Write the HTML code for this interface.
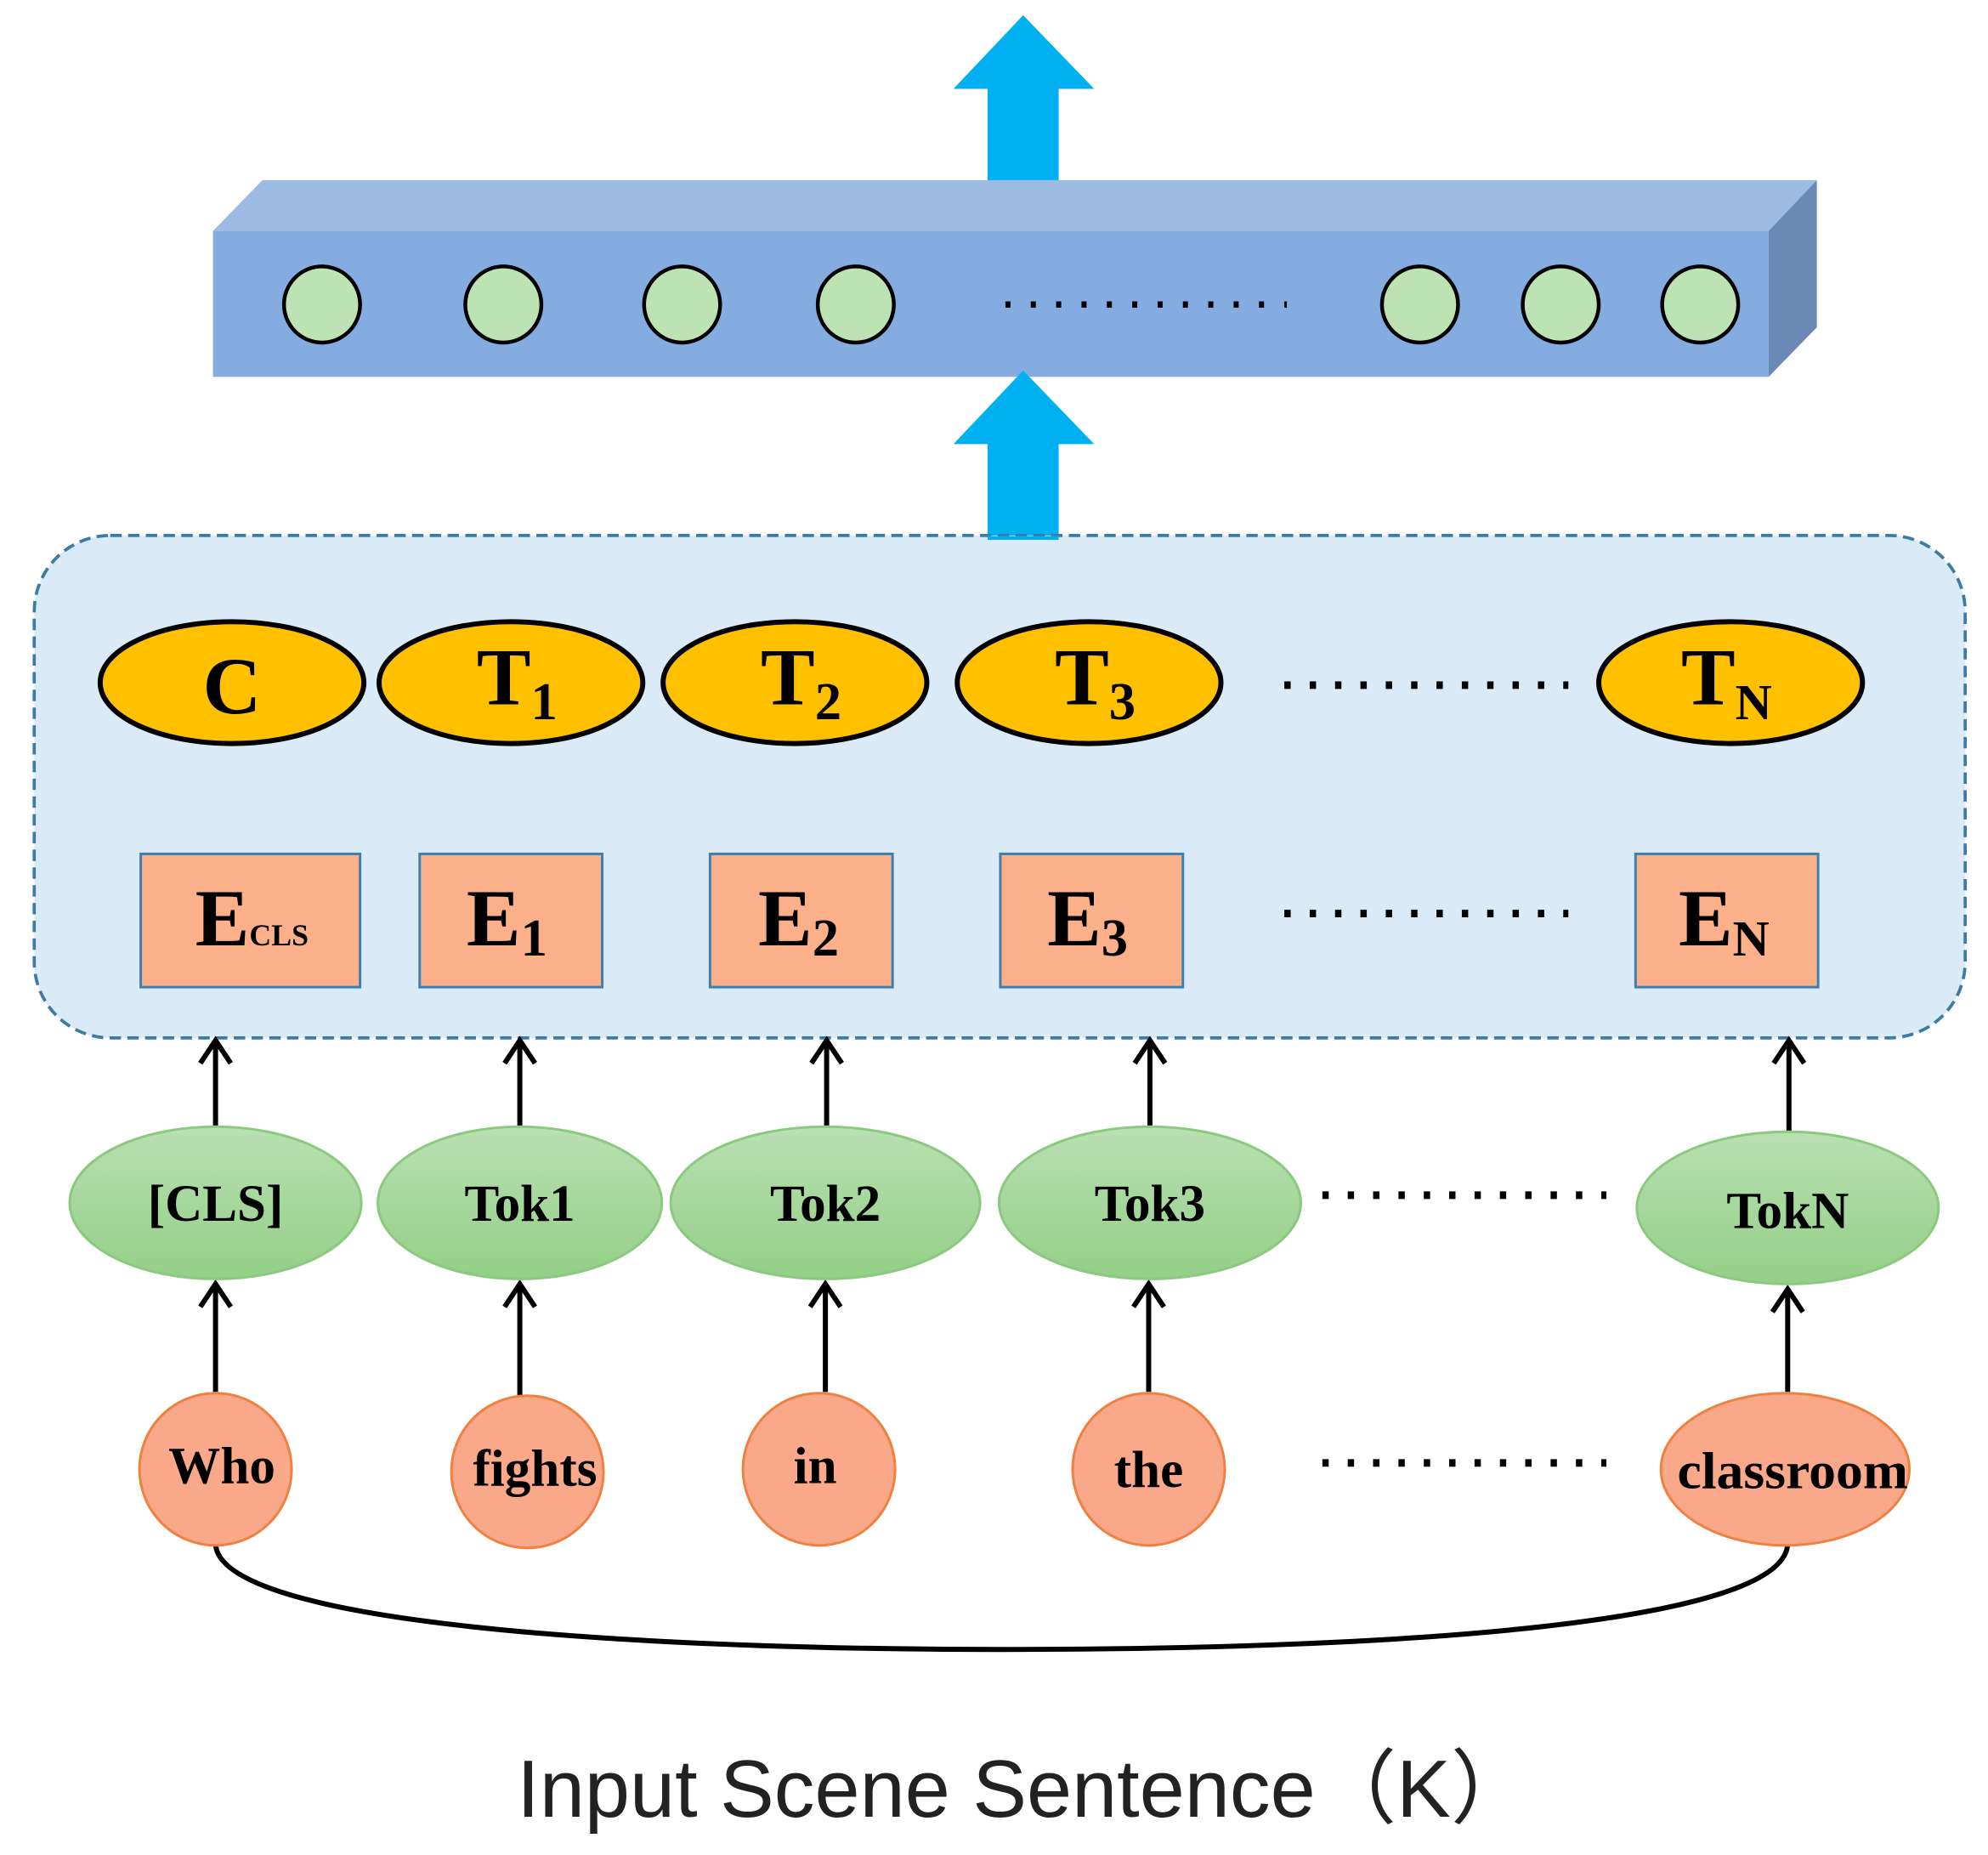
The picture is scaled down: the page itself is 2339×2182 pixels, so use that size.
<!DOCTYPE html>
<html><head><meta charset="utf-8"><style>html,body{margin:0;padding:0;background:#fff}svg{display:block}</style></head>
<body>
<svg width="2339" height="2182" viewBox="0 0 1568 1462" preserveAspectRatio="none" xmlns="http://www.w3.org/2000/svg">
<defs>
<linearGradient id="gg" x1="0" y1="0" x2="0" y2="1"><stop offset="0" stop-color="#b9e0b2"/><stop offset="1" stop-color="#93cf87"/></linearGradient>
</defs>
<polygon points="807,12 863,70 835,70 835,146 779,146 779,70 752,70" fill="#00b0f0"/>
<polygon points="168,182 207,142 1433,142 1395,182" fill="#9dbae2"/>
<polygon points="1395,182 1433,142 1433,258 1395,297" fill="#6a89b5"/>
<rect x="168" y="182" width="1227" height="115" fill="#84ace0"/>
<g fill="#bde3b5" stroke="#000" stroke-width="3">
<circle cx="254" cy="240" r="30"/><circle cx="397" cy="240" r="30"/><circle cx="538" cy="240" r="30"/><circle cx="675" cy="240" r="30"/><circle cx="1120" cy="240" r="30"/><circle cx="1231" cy="240" r="30"/><circle cx="1341" cy="240" r="30"/>
</g>
<line x1="793" y1="240" x2="1015" y2="240" stroke="#000" stroke-width="5" stroke-dasharray="4,16"/>
<polygon points="807,292 863,350 835,350 835,425 779,425 779,350 752,350" fill="#00b0f0"/>
<rect x="27" y="422" width="1523" height="396" rx="60" fill="#dbeaf7" stroke="#3a7ca5" stroke-width="2.5" stroke-dasharray="9,5"/>
<line x1="779" y1="424" x2="835" y2="424" stroke="#00b0f0" stroke-width="3"/>
<g fill="#ffc000" stroke="#000" stroke-width="4">
<ellipse cx="183" cy="538" rx="104" ry="48"/><ellipse cx="403" cy="538" rx="104" ry="48"/><ellipse cx="627" cy="538" rx="104" ry="48"/><ellipse cx="859" cy="538" rx="104" ry="48"/><ellipse cx="1365" cy="538" rx="104" ry="48"/>
</g>
<g font-family="Liberation Serif, serif" font-weight="bold" fill="#000">
<text x="183" y="562" font-size="64" text-anchor="middle">C</text>
<text x="376" y="555" font-size="64">T<tspan font-size="42" dy="12">1</tspan></text>
<text x="600" y="555" font-size="64">T<tspan font-size="42" dy="12">2</tspan></text>
<text x="832" y="555" font-size="64">T<tspan font-size="42" dy="12">3</tspan></text>
<text x="1326" y="555" font-size="64">T<tspan font-size="40" dy="12">N</tspan></text>
</g>
<line x1="1013" y1="540" x2="1237" y2="540" stroke="#000" stroke-width="6" stroke-dasharray="5,15"/>
<g fill="#fcb089" stroke="#3e7fb0" stroke-width="2">
<rect x="111" y="673" width="173" height="105"/><rect x="331" y="673" width="144" height="105"/><rect x="560" y="673" width="144" height="105"/><rect x="789" y="673" width="144" height="105"/><rect x="1290" y="673" width="144" height="105"/>
</g>
<g font-family="Liberation Serif, serif" font-weight="bold" fill="#000">
<text x="154" y="745" font-size="64">E<tspan font-size="24">CLS</tspan></text>
<text x="368" y="745" font-size="64">E<tspan font-size="42" dy="8">1</tspan></text>
<text x="598" y="745" font-size="64">E<tspan font-size="42" dy="8">2</tspan></text>
<text x="826" y="745" font-size="64">E<tspan font-size="42" dy="8">3</tspan></text>
<text x="1324" y="745" font-size="64">E<tspan font-size="40" dy="8">N</tspan></text>
</g>
<line x1="1013" y1="720" x2="1237" y2="720" stroke="#000" stroke-width="6" stroke-dasharray="5,15"/>
<g stroke="#000" stroke-width="4" fill="none">
<line x1="170" y1="887" x2="170" y2="820"/><line x1="410" y1="887" x2="410" y2="820"/><line x1="652" y1="887" x2="652" y2="820"/><line x1="907" y1="887" x2="907" y2="820"/><line x1="1411" y1="892" x2="1411" y2="820"/>
<line x1="170" y1="1097" x2="170" y2="1012"/><line x1="410" y1="1100" x2="410" y2="1012"/><line x1="651" y1="1097" x2="651" y2="1012"/><line x1="906" y1="1097" x2="906" y2="1012"/><line x1="1410" y1="1097" x2="1410" y2="1016"/>
<path d="M158,838 L170,820 L182,838"/><path d="M398,838 L410,820 L422,838"/><path d="M640,838 L652,820 L664,838"/><path d="M895,838 L907,820 L919,838"/><path d="M1399,838 L1411,820 L1423,838"/>
<path d="M158,1030 L170,1012 L182,1030"/><path d="M398,1030 L410,1012 L422,1030"/><path d="M639,1030 L651,1012 L663,1030"/><path d="M894,1030 L906,1012 L918,1030"/><path d="M1398,1034 L1410,1016 L1422,1034"/>
</g>
<g fill="url(#gg)" stroke="#8bc97f" stroke-width="2">
<ellipse cx="170" cy="948" rx="115" ry="60"/><ellipse cx="410" cy="948" rx="112" ry="60"/><ellipse cx="651" cy="948" rx="122" ry="60"/><ellipse cx="907" cy="948" rx="119" ry="60"/><ellipse cx="1410" cy="952" rx="119" ry="60"/>
</g>
<g font-family="Liberation Serif, serif" font-weight="bold" fill="#000" font-size="41" text-anchor="middle">
<text x="170" y="962">[CLS]</text><text x="410" y="962">Tok1</text><text x="651" y="962">Tok2</text><text x="907" y="962">Tok3</text><text x="1410" y="968">TokN</text>
</g>
<line x1="1043" y1="942" x2="1267" y2="942" stroke="#000" stroke-width="6" stroke-dasharray="5,15"/>
<path d="M170,1216 C170,1280 500,1300 790,1300 C1100,1300 1410,1280 1410,1216" fill="none" stroke="#000" stroke-width="4"/>
<g fill="#f9a98a" stroke="#f08040" stroke-width="2">
<circle cx="170" cy="1158" r="60"/><circle cx="416" cy="1160" r="60"/><circle cx="646" cy="1158" r="60"/><circle cx="906" cy="1158" r="60"/><ellipse cx="1408" cy="1158" rx="98" ry="60"/>
</g>
<g font-family="Liberation Serif, serif" font-weight="bold" fill="#000" font-size="41" text-anchor="middle">
<text x="175" y="1169">Who</text><text x="422" y="1171">fights</text><text x="643" y="1169">in</text><text x="906" y="1172">the</text><text x="1414" y="1173" textLength="182" lengthAdjust="spacingAndGlyphs">classroom</text>
</g>
<line x1="1043" y1="1153" x2="1267" y2="1153" stroke="#000" stroke-width="6" stroke-dasharray="5,15"/>
<text x="808" y="1432" font-family="Liberation Sans, sans-serif" font-size="64" fill="#222" text-anchor="middle">Input Scene Sentence（K）</text>
</svg>
</body></html>
